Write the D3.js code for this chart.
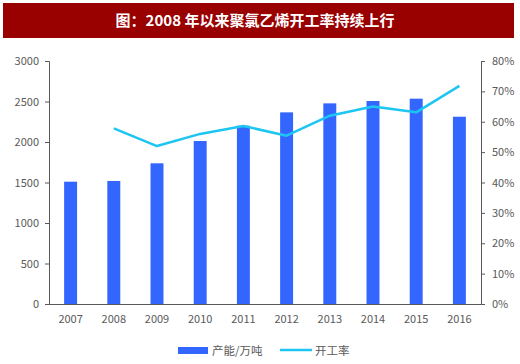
<!DOCTYPE html>
<html><head><meta charset="utf-8">
<script src="https://cdn.jsdelivr.net/npm/d3@7"></script>
<style>body{margin:0;background:#fff;}svg{display:block;}</style>
</head><body>
<script>
const years = ["2007","2008","2009","2010","2011","2012","2013","2014","2015","2016"];
const capacity = [1510,1519,1737,2012,2201,2366,2477,2506,2535,2312];
const rateYears = ["2008","2009","2010","2011","2012","2013","2014","2015","2016"];
const rate = [0.578,0.520,0.560,0.586,0.554,0.620,0.650,0.631,0.718];
const leftTicks = [0,500,1000,1500,2000,2500,3000];
const rightTicks = [0,0.1,0.2,0.3,0.4,0.5,0.6,0.7,0.8];
const title = "图：2008 年以来聚氯乙烯开工率持续上行";
const legendNames = ["产能/万吨","开工率"];

const W=520,H=364;
const svg=d3.select("body").append("svg").attr("width",W).attr("height",H);
const font="'Microsoft YaHei','Noto Sans CJK SC','DejaVu Sans',sans-serif";

// title bar
svg.append("rect").attr("x",3).attr("y",3).attr("width",511).attr("height",35).attr("fill","#990000");
svg.append("text").attr("x",255).attr("y",26).attr("text-anchor","middle").attr("fill","#fff")
  .attr("font-family","'Noto Sans CJK SC',sans-serif").attr("font-weight","bold").attr("font-size",15).text(title);

const x0=49,x1=481,y0=304,y1=61;
const x=d3.scaleBand().domain(years).range([x0,x1]).paddingInner(0.7).paddingOuter(0.35);
const yL=d3.scaleLinear().domain([0,3000]).range([y0,y1]);
const yR=d3.scaleLinear().domain([0,0.8]).range([y0,y1]);

// bars
svg.append("g").selectAll("rect").data(capacity).join("rect")
  .attr("x",(d,i)=>x(years[i])).attr("width",x.bandwidth())
  .attr("y",d=>yL(d)).attr("height",d=>y0-yL(d)).attr("fill","#3366FF");

// line
const line=d3.line().x((d,i)=>x(rateYears[i])+x.bandwidth()/2).y(d=>yR(d));
svg.append("path").datum(rate).attr("d",line).attr("fill","none").attr("stroke","#1DC6F2").attr("stroke-width",2.5).attr("stroke-linejoin","round");

// axes
const axL=svg.append("g").attr("transform",`translate(${x0},0)`).call(d3.axisLeft(yL).tickValues(leftTicks).tickFormat(d3.format("d")).tickSize(4).tickPadding(6));
const axR=svg.append("g").attr("transform",`translate(${x1},0)`).call(d3.axisRight(yR).tickValues(rightTicks).tickFormat(d3.format(".0%")).tickSize(4).tickPadding(7));
const axX=svg.append("g").attr("transform",`translate(0,${y0})`).call(d3.axisBottom(x).tickSize(0).tickPadding(11));
axX.select(".domain").attr("d",`M${x0},0.5H${x1}`);
[axL,axR,axX].forEach(a=>{
  a.select(".domain").attr("stroke","#595959");
  a.selectAll(".tick line").attr("stroke","#595959");
  a.selectAll("text").attr("fill","#595959").attr("font-family",font).attr("font-size",11);
});

// legend
const lg=svg.append("g");
lg.append("rect").attr("x",178).attr("y",347).attr("width",30).attr("height",7).attr("fill","#3366FF");
lg.append("text").attr("x",212).attr("y",355).attr("fill","#595959").attr("font-family",font).attr("font-size",11.5).text(legendNames[0]);
lg.append("line").attr("x1",280).attr("x2",312).attr("y1",350).attr("y2",350).attr("stroke","#1DC6F2").attr("stroke-width",2.5);
lg.append("text").attr("x",315).attr("y",355).attr("fill","#595959").attr("font-family",font).attr("font-size",11.5).text(legendNames[1]);
</script>
</body></html>
